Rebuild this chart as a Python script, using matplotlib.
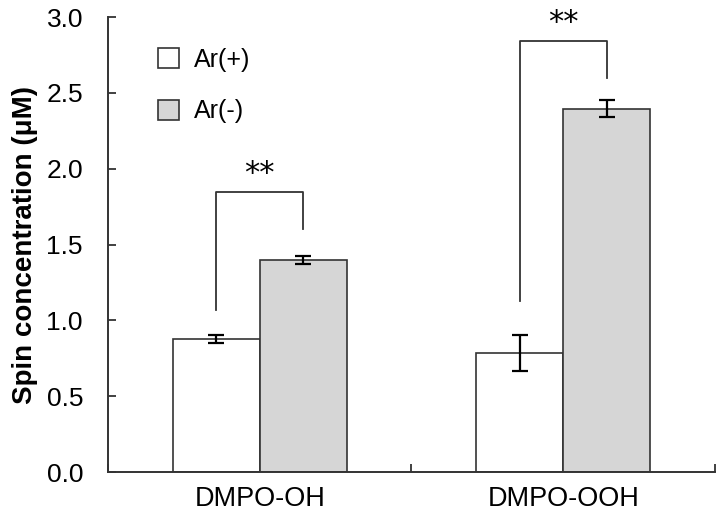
import numpy as np
import matplotlib.pyplot as plt

plt.rcParams['font.family'] = ['Liberation Sans', 'DejaVu Sans']

categories = ['DMPO-OH', 'DMPO-OOH']
series = ['Ar(+)', 'Ar(-)']
ar_plus = [0.878, 0.784]
ar_plus_err = [0.024, 0.12]
ar_minus = [1.397, 2.395]
ar_minus_err = [0.028, 0.055]
# significance brackets: (left leg bottom, right leg bottom, bracket top)
bracket_left = [1.07, 1.13]
bracket_right = [1.60, 2.60]
bracket_top = [1.845, 2.84]
sig_labels = ['**', '**']

edge = '#333333'
width = 0.287
x = np.arange(len(categories))

fig = plt.figure(figsize=(7.2, 5.17), dpi=100)
ax = fig.add_axes([0.150, 0.087, 0.843, 0.880])

err_kw = dict(ecolor='black', elinewidth=1.6, capsize=6, capthick=1.6)
ax.bar(x - width / 2, ar_plus, width, yerr=ar_plus_err, color='white',
       edgecolor=edge, linewidth=1.2, label=series[0], error_kw=err_kw)
ax.bar(x + width / 2, ar_minus, width, yerr=ar_minus_err, color='#d6d6d6',
       edgecolor=edge, linewidth=1.2, label=series[1], error_kw=err_kw)

# significance brackets
for i in range(len(categories)):
    xl = x[i] - width / 2
    xr = x[i] + width / 2
    ax.plot([xl, xl, xr, xr],
            [bracket_left[i], bracket_top[i], bracket_top[i], bracket_right[i]],
            color=edge, linewidth=1.3)
    ax.text(x[i], bracket_top[i] + 0.03, sig_labels[i], ha='center',
            va='bottom', fontsize=22, family='DejaVu Sans')

ax.set_xlim(-0.5, 1.5)
ax.set_ylim(0, 3.0)
ax.set_yticks(np.arange(0, 3.01, 0.5))
ax.set_yticklabels([f'{v:.1f}' for v in np.arange(0, 3.01, 0.5)])
ax.set_xticks(x)
ax.set_xticklabels(categories)
ax.set_xticks([-0.5, 0.5, 1.5], minor=True)
ax.tick_params(axis='x', which='major', length=0, pad=10, labelsize=19.5)
ax.tick_params(axis='x', which='minor', direction='in', length=6,
               width=1.3, color=edge)
ax.tick_params(axis='y', direction='in', length=6, width=1.3, color=edge,
               labelsize=19, pad=18)

ax.set_ylabel('Spin concentration (\u03bcM)', fontsize=20, fontweight='bold',
              labelpad=6)

for s in ['top', 'right']:
    ax.spines[s].set_visible(False)
for s in ['left', 'bottom']:
    ax.spines[s].set_color(edge)
    ax.spines[s].set_linewidth(1.4)

ax.legend(loc='upper left', bbox_to_anchor=(0.045, 0.982), frameon=False,
          fontsize=18, handlelength=0.85, handleheight=0.85, labelspacing=1.1,
          handletextpad=0.6)

fig.savefig('out.png', dpi=100)
